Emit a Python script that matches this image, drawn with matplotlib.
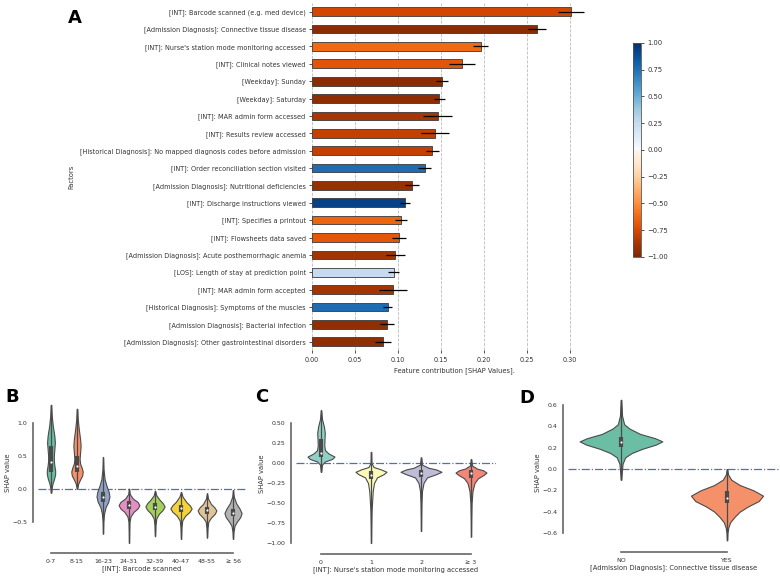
import colorsys
import numpy as np
import matplotlib
matplotlib.use("Agg")
import matplotlib.pyplot as plt
from matplotlib.colors import ListedColormap, Normalize, to_rgb

# ---- panel A data: mean |SHAP| per factor, its spread and the correlation sign used for colour
factors = [
    "[INT]: Barcode scanned (e.g. med device)",
    "[Admission Diagnosis]: Connective tissue disease",
    "[INT]: Nurse's station mode monitoring accessed",
    "[INT]: Clinical notes viewed",
    "[Weekday]: Sunday",
    "[Weekday]: Saturday",
    "[INT]: MAR admin form accessed",
    "[INT]: Results review accessed",
    "[Historical Diagnosis]: No mapped diagnosis codes before admission",
    "[INT]: Order reconciliation section visited",
    "[Admission Diagnosis]: Nutritional deficiencies",
    "[INT]: Discharge instructions viewed",
    "[INT]: Specifies a printout",
    "[INT]: Flowsheets data saved",
    "[Admission Diagnosis]: Acute posthemorrhagic anemia",
    "[LOS]: Length of stay at prediction point",
    "[INT]: MAR admin form accepted",
    "[Historical Diagnosis]: Symptoms of the muscles",
    "[Admission Diagnosis]: Bacterial infection",
    "[Admission Diagnosis]: Other gastrointestinal disorders",
]
shap_mean = [0.301, 0.261, 0.196, 0.174, 0.151, 0.148, 0.146, 0.143, 0.140, 0.131,
             0.116, 0.108, 0.103, 0.101, 0.097, 0.095, 0.094, 0.088, 0.087, 0.083]
shap_err = [0.015, 0.0105, 0.0084, 0.015, 0.0066, 0.0066, 0.0167, 0.0167, 0.0074, 0.0076,
            0.0083, 0.0054, 0.007, 0.0085, 0.011, 0.0062, 0.0165, 0.0054, 0.0081, 0.0093]
corr = [-0.76, -0.96, -0.62, -0.70, -0.96, -0.95, -0.87, -0.80, -0.80, 0.76,
        -0.92, 0.93, -0.64, -0.69, -0.89, 0.25, -0.88, 0.76, -0.94, -0.94]
cbar_ticks = [-1.0, -0.75, -0.5, -0.25, 0.0, 0.25, 0.5, 0.75, 1.0]

# ---- panel B: violin profiles (SHAP level, half width)
b_cats = ["0-7", "8-15", "16-23", "24-31", "32-39", "40-47", "48-55", "\u2265 56"]
b_levels = [
    [1.27, 1.1, 0.95, 0.8, 0.7, 0.6, 0.5, 0.42, 0.35, 0.28, 0.22, 0.15, 0.08, 0.02, -0.06],
    [1.21, 1.05, 0.9, 0.75, 0.65, 0.55, 0.45, 0.38, 0.32, 0.26, 0.2, 0.14, 0.08, 0.0],
    [0.48, 0.3, 0.15, 0.05, -0.05, -0.12, -0.2, -0.28, -0.38, -0.5, -0.68],
    [0.0, -0.08, -0.15, -0.2, -0.25, -0.3, -0.35, -0.42, -0.5, -0.65, -0.82],
    [-0.03, -0.1, -0.17, -0.22, -0.27, -0.32, -0.38, -0.45, -0.55, -0.72],
    [-0.05, -0.12, -0.2, -0.25, -0.3, -0.35, -0.41, -0.48, -0.58, -0.76],
    [-0.07, -0.15, -0.23, -0.28, -0.33, -0.38, -0.44, -0.5, -0.6, -0.74],
    [-0.02, -0.12, -0.22, -0.3, -0.37, -0.43, -0.5, -0.56, -0.65, -0.76],
]
b_width = [
    [0.01, 0.03, 0.07, 0.13, 0.15, 0.13, 0.11, 0.11, 0.13, 0.16, 0.16, 0.12, 0.06, 0.03, 0.01],
    [0.01, 0.03, 0.07, 0.12, 0.14, 0.12, 0.1, 0.12, 0.18, 0.22, 0.2, 0.12, 0.05, 0.01],
    [0.005, 0.02, 0.06, 0.13, 0.22, 0.25, 0.2, 0.1, 0.04, 0.015, 0.005],
    [0.005, 0.03, 0.15, 0.33, 0.40, 0.33, 0.18, 0.06, 0.02, 0.01, 0.005],
    [0.005, 0.05, 0.18, 0.3, 0.37, 0.3, 0.15, 0.05, 0.02, 0.005],
    [0.005, 0.06, 0.2, 0.33, 0.41, 0.33, 0.16, 0.05, 0.02, 0.005],
    [0.005, 0.04, 0.15, 0.28, 0.36, 0.3, 0.15, 0.05, 0.02, 0.005],
    [0.005, 0.03, 0.12, 0.25, 0.33, 0.28, 0.15, 0.06, 0.02, 0.005],
]
b_q1 = [0.25, 0.25, -0.2, -0.31, -0.32, -0.35, -0.38, -0.42]
b_med = [0.40, 0.35, -0.12, -0.25, -0.27, -0.30, -0.33, -0.37]
b_q3 = [0.65, 0.50, -0.05, -0.19, -0.22, -0.25, -0.28, -0.31]

# ---- panel C
c_cats = ["0", "1", "2", "\u2265 3"]
c_levels = [
    [0.66, 0.55, 0.45, 0.38, 0.3, 0.22, 0.16, 0.12, 0.08, 0.05, 0.02, -0.02, -0.11],
    [0.14, 0.0, -0.05, -0.08, -0.11, -0.14, -0.18, -0.25, -0.35, -0.45, -0.6, -0.8, -1.0],
    [0.07, -0.02, -0.06, -0.08, -0.11, -0.14, -0.18, -0.25, -0.35, -0.5, -0.7, -0.85],
    [0.05, -0.03, -0.07, -0.09, -0.12, -0.15, -0.19, -0.25, -0.35, -0.5, -0.7, -0.92],
]
c_width = [
    [0.005, 0.02, 0.06, 0.075, 0.07, 0.065, 0.08, 0.15, 0.27, 0.22, 0.08, 0.02, 0.005],
    [0.005, 0.01, 0.05, 0.2, 0.31, 0.25, 0.12, 0.06, 0.035, 0.025, 0.012, 0.006, 0.003],
    [0.005, 0.02, 0.15, 0.3, 0.41, 0.3, 0.12, 0.05, 0.02, 0.01, 0.005, 0.003],
    [0.005, 0.02, 0.12, 0.24, 0.31, 0.25, 0.14, 0.07, 0.03, 0.012, 0.006, 0.003],
]
c_q1 = [0.08, -0.2, -0.18, -0.19]
c_med = [0.13, -0.15, -0.13, -0.13]
c_q3 = [0.30, -0.1, -0.09, -0.09]

# ---- panel D
d_cats = ["NO", "YES"]
d_levels = [
    [0.65, 0.5, 0.42, 0.38, 0.33, 0.29, 0.26, 0.23, 0.19, 0.15, 0.11, 0.05, 0.0, -0.1],
    [0.0, -0.05, -0.1, -0.15, -0.2, -0.25, -0.3, -0.35, -0.4, -0.45, -0.5, -0.55, -0.6, -0.67],
]
d_width = [
    [0.003, 0.01, 0.03, 0.08, 0.18, 0.32, 0.39, 0.33, 0.2, 0.1, 0.04, 0.015, 0.01, 0.003],
    [0.003, 0.01, 0.04, 0.12, 0.25, 0.34, 0.3, 0.2, 0.12, 0.07, 0.03, 0.012, 0.005, 0.002],
]
d_q1 = [0.21, -0.32]
d_med = [0.25, -0.27]
d_q3 = [0.30, -0.21]

set2 = ["#66c2a5", "#fc8d62", "#8da0cb", "#e78ac3", "#a6d854", "#ffd92f", "#e5c494", "#b3b3b3"]
set3 = ["#8dd3c7", "#ffffb3", "#bebada", "#fb8072"]

TXT = "#333333"
plt.rcParams["font.family"] = "DejaVu Sans"
plt.rcParams["text.color"] = TXT
plt.rcParams["axes.labelcolor"] = TXT
plt.rcParams["xtick.color"] = TXT
plt.rcParams["ytick.color"] = TXT


def desat(c, s=0.9):
    h, l, sat = colorsys.rgb_to_hls(*to_rgb(c))
    return colorsys.hls_to_rgb(h, l, sat * s)


fig = plt.figure(figsize=(7.8, 5.77), dpi=100)

# ---------------- A
cmap = ListedColormap(np.vstack([plt.cm.Oranges_r(np.linspace(0, 1, 128)),
                                 plt.cm.Blues(np.linspace(0, 1, 128))]))
norm = Normalize(-1, 1)
axA = fig.add_axes([0.4, 0.3927, 0.3641, 0.6021])
ypos = np.arange(len(factors))
axA.barh(ypos, shap_mean, height=0.5, color=cmap(norm(corr)), edgecolor="#3a3a3a",
         linewidth=0.6, zorder=3)
axA.errorbar(shap_mean, ypos, xerr=shap_err, fmt="none", ecolor="black", elinewidth=0.9,
             capsize=0, zorder=4)
axA.set_ylim(len(factors) - 0.5, -0.5)
axA.set_xlim(0, 0.33)
axA.set_yticks(ypos)
axA.set_yticklabels(factors)
axA.set_xticks([0, 0.05, 0.1, 0.15, 0.2, 0.25, 0.3])
axA.set_xticklabels(["0.00", "0.05", "0.10", "0.15", "0.20", "0.25", "0.30"])
axA.tick_params(labelsize=4.7, length=2.5, width=0.6, pad=2)
axA.grid(axis="x", ls="--", color="#bbbbbb", lw=0.6, zorder=0)
for s in axA.spines.values():
    s.set_visible(False)
axA.set_xlabel("Feature contribution [SHAP Values].", fontsize=4.9, labelpad=3)
axA.set_ylabel("Factors", fontsize=4.9, labelpad=4)
fig.text(0.096, 0.969, "A", fontsize=13, fontweight="bold", ha="center", va="center",
         color="black")

cax = fig.add_axes([0.8115, 0.5546, 0.0103, 0.3709])
cb = fig.colorbar(plt.cm.ScalarMappable(norm=norm, cmap=cmap), cax=cax, ticks=cbar_ticks)
cb.ax.tick_params(labelsize=4.9, length=2.5, width=0.6, pad=2)
cb.ax.set_yticklabels(["%.2f" % t if t >= 0 else "\u2212%.2f" % -t for t in cbar_ticks])
cb.outline.set_edgecolor("#555555")
cb.outline.set_linewidth(0.6)


# ---------------- violin panels
def violin_panel(rect, cats, levels, widths, q1, med, q3, colors, ylim, yticks, ylabels,
                 xlabel):
    ax = fig.add_axes(rect)
    stats = []
    for lv, wd, m in zip(levels, widths, med):
        stats.append({"coords": np.array(lv), "vals": np.array(wd), "mean": m, "median": m,
                      "min": min(lv), "max": max(lv)})
    pos = np.arange(len(cats))
    parts = ax.violin(stats, positions=pos, widths=[2 * max(w) for w in widths],
                      showmeans=False, showextrema=False, showmedians=False)
    for body, c in zip(parts["bodies"], colors):
        body.set_facecolor(desat(c))
        body.set_edgecolor("#4a4a4a")
        body.set_linewidth(0.8)
        body.set_alpha(1)
        body.set_zorder(2)
    lo = [min(lv) for lv in levels]
    hi = [max(lv) for lv in levels]
    ax.vlines(pos, lo, hi, color="#4a4a4a", lw=0.9, zorder=3)
    ax.vlines(pos, q1, q3, color="#4a4a4a", lw=3.0, zorder=3)
    ax.scatter(pos, med, s=2.5, color="white", zorder=4, linewidths=0)
    ax.axhline(0, color="#4c72b0", ls="-.", lw=0.9, zorder=1)
    ax.set_xlim(-0.5, len(cats) - 0.5)
    ax.set_ylim(*ylim)
    ax.set_xticks(pos)
    ax.set_xticklabels(cats)
    ax.set_yticks(yticks)
    ax.set_yticklabels(ylabels)
    ax.tick_params(labelsize=4.5, length=0, pad=4)
    for side in ["top", "right"]:
        ax.spines[side].set_visible(False)
    ax.spines["left"].set_position(("outward", 3.6))
    ax.spines["bottom"].set_position(("outward", 3.6))
    ax.spines["left"].set_bounds(yticks[0], yticks[-1])
    ax.spines["bottom"].set_bounds(0, len(cats) - 1)
    for side in ["left", "bottom"]:
        ax.spines[side].set_color("#666666")
        ax.spines[side].set_linewidth(1.2)
    ax.set_xlabel(xlabel, fontsize=4.9, labelpad=1.5)
    ax.set_ylabel("SHAP value", fontsize=4.9, labelpad=1)
    return ax


violin_panel([0.0487, 0.0503, 0.2667, 0.26], b_cats, b_levels, b_width, b_q1, b_med, b_q3,
             set2, (-0.898, 1.374), [-0.5, 0.0, 0.5, 1.0],
             ["\u22120.5", "0.0", "0.5", "1.0"], "[INT]: Barcode scanned")
violin_panel([0.3795, 0.0485, 0.2564, 0.2617], c_cats, c_levels, c_width, c_q1, c_med, c_q3,
             set3, (-1.075, 0.8125), [-1.0, -0.75, -0.5, -0.25, 0.0, 0.25, 0.5],
             ["\u22121.00", "\u22120.75", "\u22120.50", "\u22120.25", "0.00", "0.25", "0.50"],
             "[INT]: Nurse's station mode monitoring accessed")
violin_panel([0.7282, 0.052, 0.2718, 0.2582], d_cats, d_levels, d_width, d_q1, d_med, d_q3,
             set2[:2], (-0.732, 0.667), [-0.6, -0.4, -0.2, 0.0, 0.2, 0.4, 0.6],
             ["\u22120.6", "\u22120.4", "\u22120.2", "0.0", "0.2", "0.4", "0.6"],
             "[Admission Diagnosis]: Connective tissue disease")

fig.text(0.0154, 0.312, "B", fontsize=13, fontweight="bold", ha="center", va="center",
         color="black")
fig.text(0.336, 0.312, "C", fontsize=13, fontweight="bold", ha="center", va="center",
         color="black")
fig.text(0.676, 0.310, "D", fontsize=13, fontweight="bold", ha="center", va="center",
         color="black")

fig.savefig("out.png", dpi=100)
